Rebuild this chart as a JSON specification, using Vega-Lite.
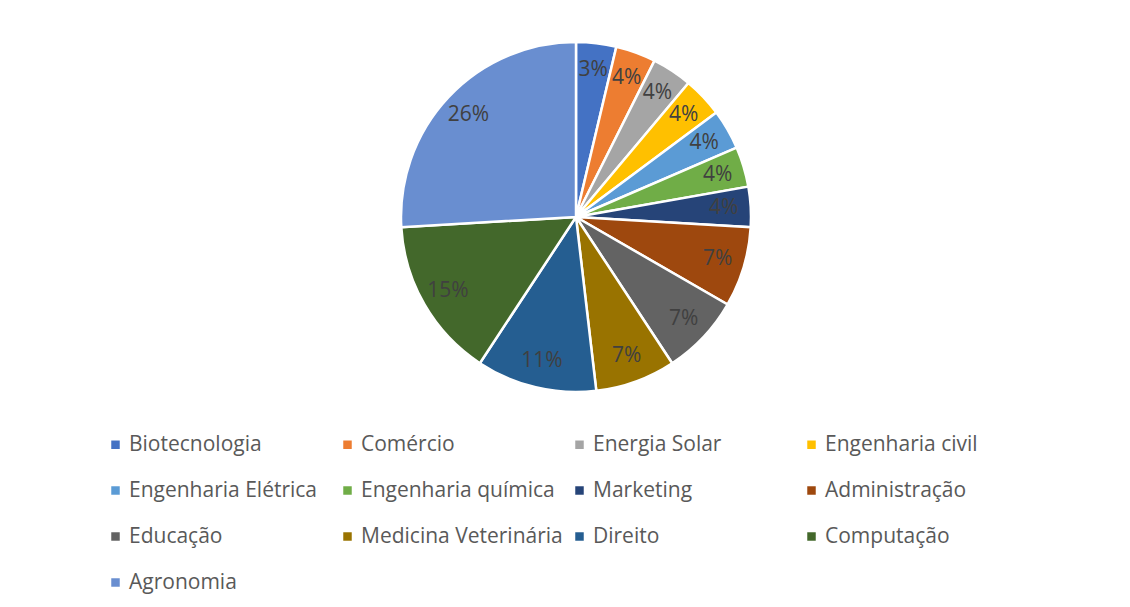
{
  "$schema": "https://vega.github.io/schema/vega-lite/v6.json",
  "autosize": "none",
  "width": 350,
  "height": 350,
  "padding": {"left": 401, "top": 42, "right": 379, "bottom": 215},
  "background": "white",
  "config": {"view": {"stroke": null}},
  "data": {"values": [
    {"ordem": 1, "curso": "Biotecnologia", "qtd": 1, "rotulo": "3%"},
    {"ordem": 2, "curso": "Comércio", "qtd": 1, "rotulo": "4%"},
    {"ordem": 3, "curso": "Energia Solar", "qtd": 1, "rotulo": "4%"},
    {"ordem": 4, "curso": "Engenharia civil", "qtd": 1, "rotulo": "4%"},
    {"ordem": 5, "curso": "Engenharia Elétrica", "qtd": 1, "rotulo": "4%"},
    {"ordem": 6, "curso": "Engenharia química", "qtd": 1, "rotulo": "4%"},
    {"ordem": 7, "curso": "Marketing", "qtd": 1, "rotulo": "4%"},
    {"ordem": 8, "curso": "Administração", "qtd": 2, "rotulo": "7%"},
    {"ordem": 9, "curso": "Educação", "qtd": 2, "rotulo": "7%"},
    {"ordem": 10, "curso": "Medicina Veterinária", "qtd": 2, "rotulo": "7%"},
    {"ordem": 11, "curso": "Direito", "qtd": 3, "rotulo": "11%"},
    {"ordem": 12, "curso": "Computação", "qtd": 4, "rotulo": "15%"},
    {"ordem": 13, "curso": "Agronomia", "qtd": 7, "rotulo": "26%"}
  ]},
  "encoding": {
    "theta": {"field": "qtd", "type": "quantitative", "stack": true},
    "order": {"field": "ordem", "type": "quantitative"}
  },
  "layer": [
    {
      "mark": {"type": "arc", "outerRadius": 175, "stroke": "white", "strokeWidth": 2.5},
      "encoding": {
        "color": {
          "field": "curso", "type": "nominal",
          "scale": {
            "domain": ["Biotecnologia", "Comércio", "Energia Solar", "Engenharia civil", "Engenharia Elétrica", "Engenharia química", "Marketing", "Administração", "Educação", "Medicina Veterinária", "Direito", "Computação", "Agronomia"],
            "range": ["#4472C4", "#ED7D31", "#A5A5A5", "#FFC000", "#5B9BD5", "#70AD47", "#264478", "#9E480E", "#636363", "#997300", "#255E91", "#43682B", "#698ED0"]
          },
          "legend": {
            "title": null,
            "orient": "none",
            "legendX": -296,
            "legendY": 392,
            "direction": "horizontal",
            "columns": 4,
            "gridAlign": "all",
            "columnPadding": 6,
            "rowPadding": 24,
            "padding": 0,
            "symbolType": "square",
            "symbolSize": 72,
            "symbolStrokeWidth": 0,
            "labelOffset": 3,
            "labelFont": "Open Sans",
            "labelFontSize": 21,
            "labelColor": "#595959",
            "labelLimit": 400
          }
        }
      }
    },
    {
      "mark": {"type": "text", "radius": 148, "font": "Open Sans", "fontSize": 21, "color": "#404040"},
      "encoding": {"text": {"field": "rotulo", "type": "nominal"}}
    }
  ]
}
